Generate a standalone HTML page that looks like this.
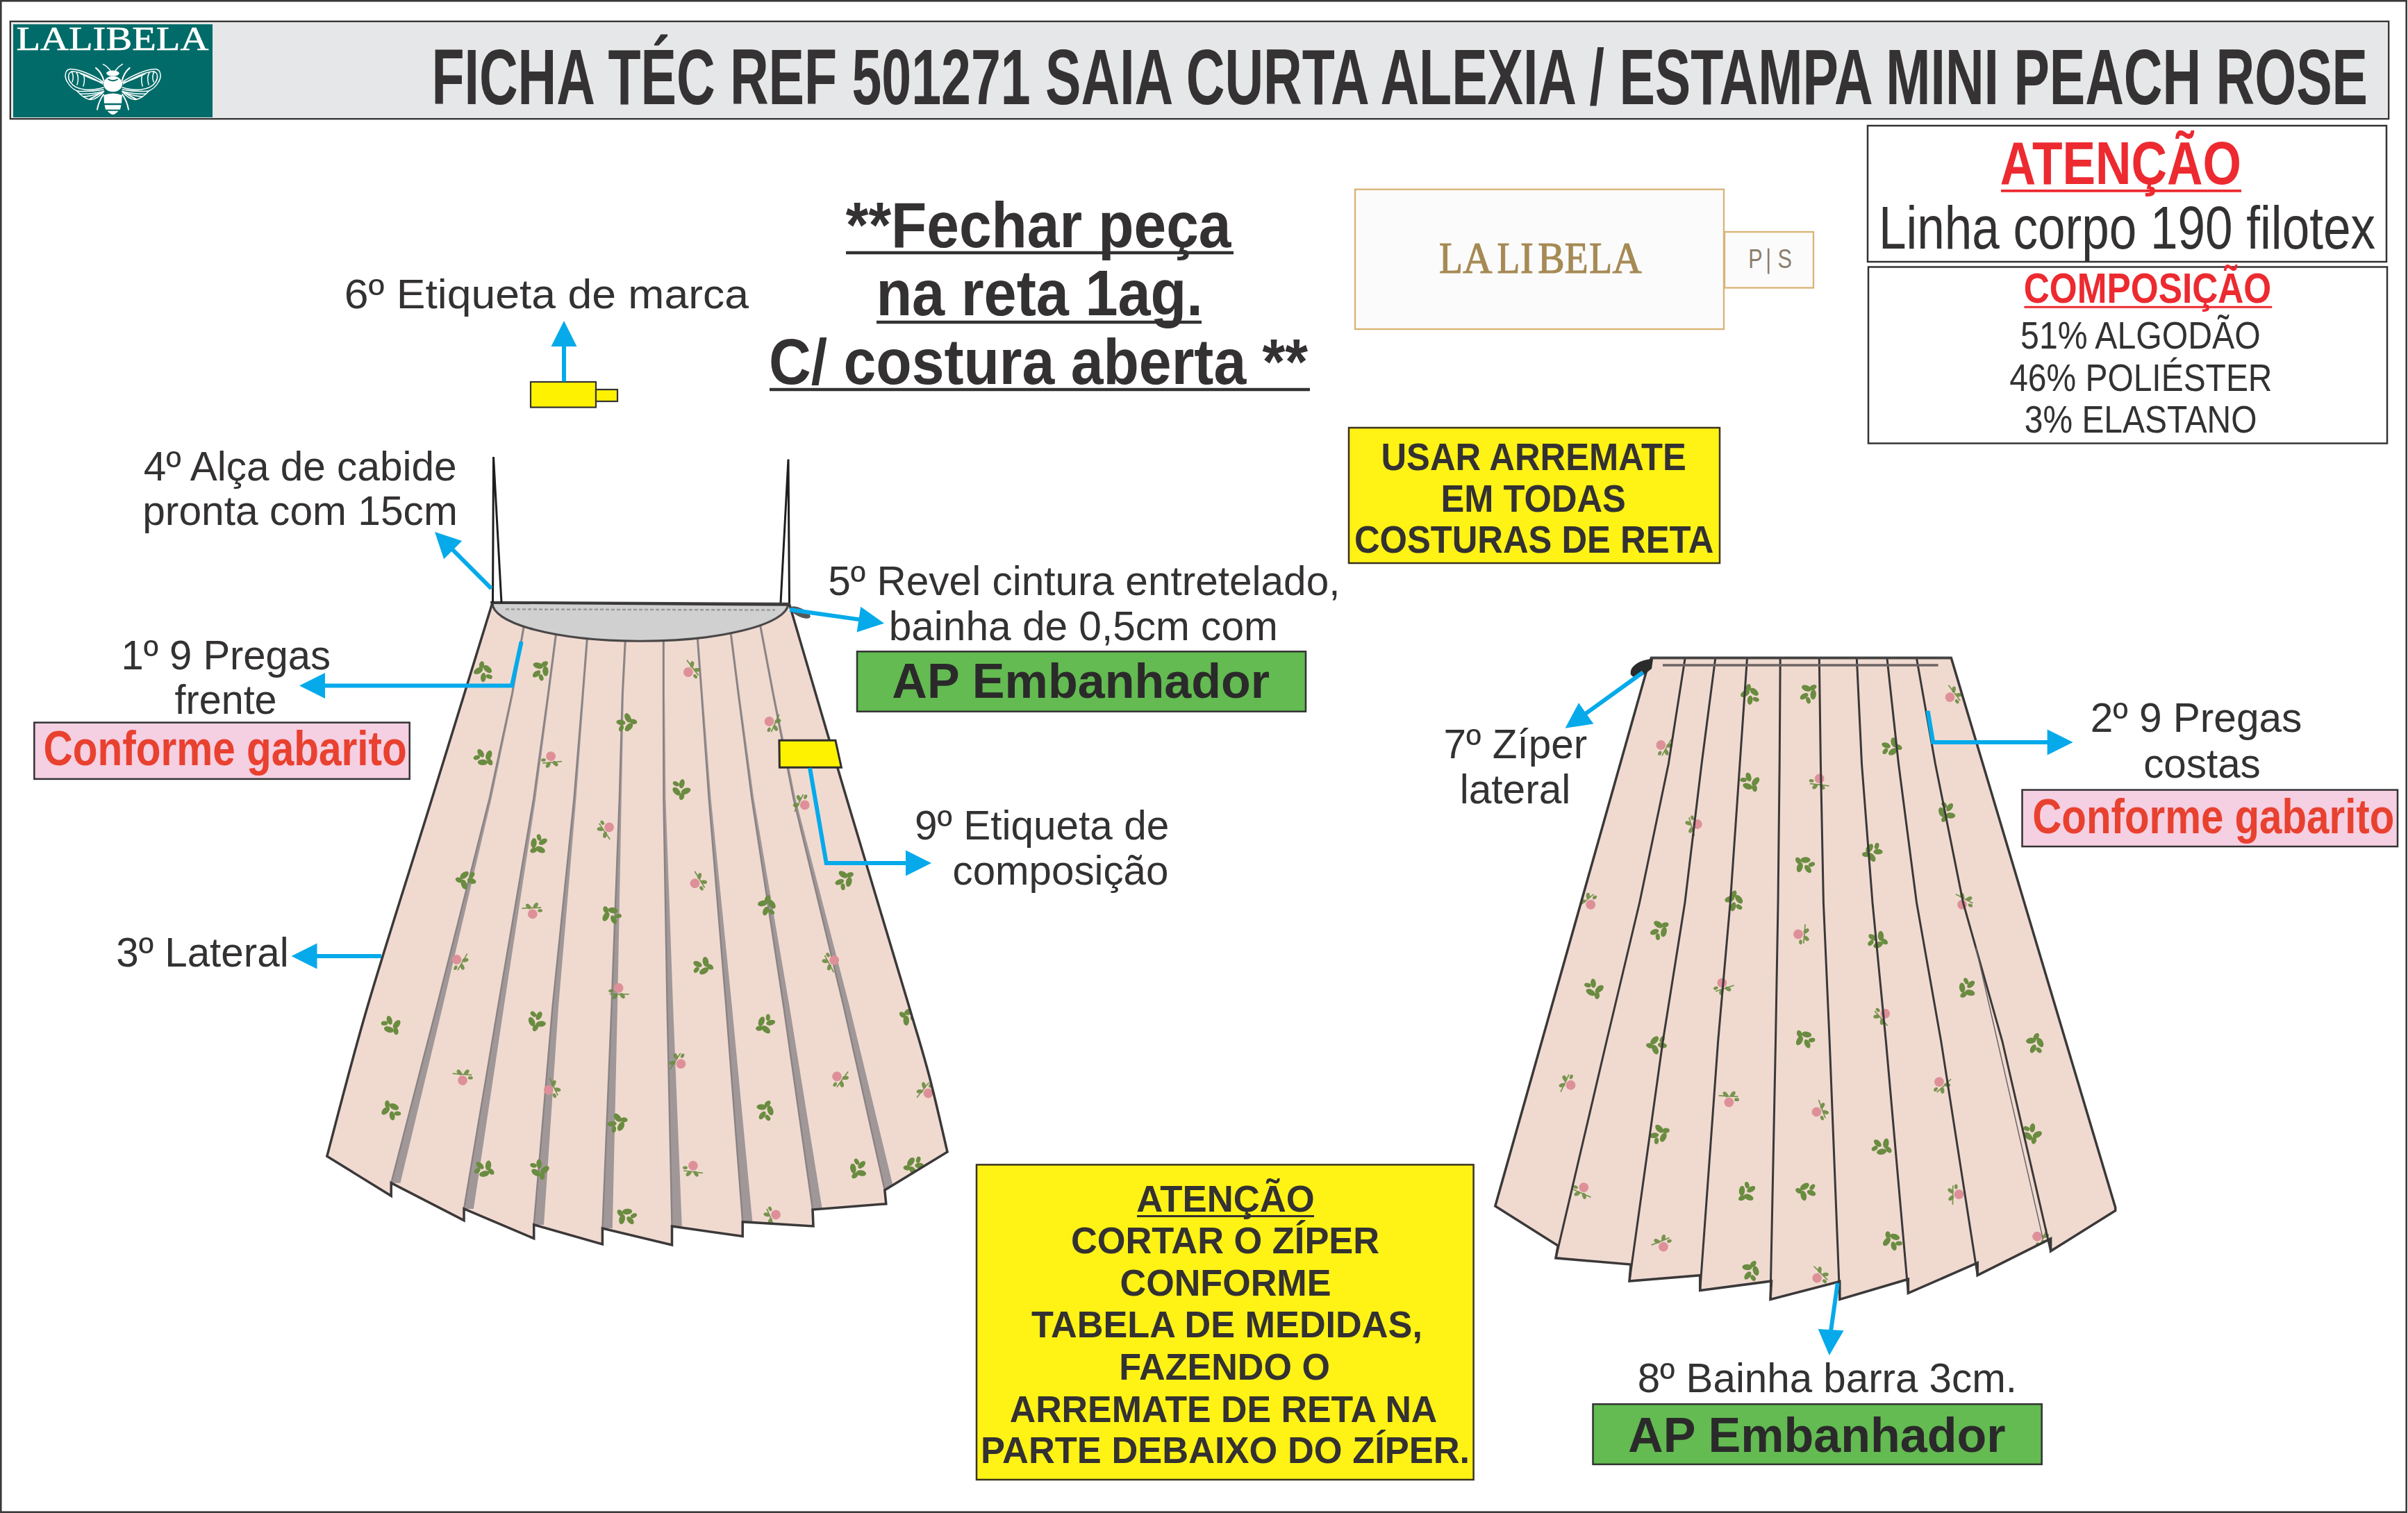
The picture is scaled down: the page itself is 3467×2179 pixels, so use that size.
<!DOCTYPE html>
<html><head><meta charset="utf-8"><title>Ficha Técnica 501271</title>
<style>html,body{margin:0;padding:0;background:#fff;}svg{display:block;}</style></head>
<body><svg width="3467" height="2179" viewBox="0 0 3467 2179">
<rect x="0" y="0" width="3467" height="2179" fill="#ffffff"/>
<rect x="1.3" y="1.3" width="3463.4" height="2176.4" fill="none" stroke="#3a3a3a" stroke-width="2.6"/>
<rect x="14.8" y="30.8" width="3424.4" height="140.4" fill="#e6e7e8" stroke="#333" stroke-width="2.3"/>
<rect x="19" y="35" width="287" height="134" fill="#006b68"/>
<text x="23.4" y="72.0" font-size="48.09" font-weight="normal" font-family='"Liberation Serif", serif' fill="#ffffff" textLength="277.0" lengthAdjust="spacingAndGlyphs" stroke="#ffffff" stroke-width="0.6">LALIBELA</text>
<g fill="none" stroke="#ffffff" stroke-width="1.5" stroke-linecap="round">
<path d="M159,102 Q155,96 148.5,92.7 M166,102 Q170,96 176.4,92.4"/>
<path d="M150,119 C138,110 114,99 101,99.5 C93,100.5 92.5,111 97,118 C101,125 106,129 111,131 C116,137 124,143 131,143.5 C138,143 145,137 150,131"/>
<path d="M148,121 C136,113 116,103 104,103 C98,104 97,112 101,118 C105,124 113,128 122,129 C132,130 142,128 149,126"/>
<path d="M111,131 C122,132 138,131 149,129 M115,135 C126,136 138,134 148,132"/>
<path d="M103,103 C106,108 106,113 104,118 M110,104 C113,109 113,116 111,122 M120,107 C122,111 122,117 120,124"/>
<path d="M148,119 C140,117 128,112 116,106 M120,139 C128,139 139,136 148,133"/>
<g transform="translate(325.2,0) scale(-1,1)"><path d="M150,119 C138,110 114,99 101,99.5 C93,100.5 92.5,111 97,118 C101,125 106,129 111,131 C116,137 124,143 131,143.5 C138,143 145,137 150,131"/>
<path d="M148,121 C136,113 116,103 104,103 C98,104 97,112 101,118 C105,124 113,128 122,129 C132,130 142,128 149,126"/>
<path d="M111,131 C122,132 138,131 149,129 M115,135 C126,136 138,134 148,132"/>
<path d="M103,103 C106,108 106,113 104,118 M110,104 C113,109 113,116 111,122 M120,107 C122,111 122,117 120,124"/>
<path d="M148,119 C140,117 128,112 116,106 M120,139 C128,139 139,136 148,133"/></g>
<path d="M149.5,116 Q146,104 138,97.9 M175.7,116 Q179,104 186.7,97.9" stroke-width="2"/>
<path d="M150,131 Q140,137 129,143 M175.2,131 Q185,137 196,143" stroke-width="2"/>
<path d="M149,136 Q142,146 140,157.7 M176.2,136 Q183,146 185,157.7" stroke-width="2"/>
</g>
<g fill="#ffffff">
<ellipse cx="162.4" cy="105.6" rx="9.3" ry="4"/>
<ellipse cx="162.6" cy="121" rx="13.5" ry="11.3"/>
<path d="M149.4,137 Q162.6,132 175.8,137 L175.1,148.7 L150,148.7 Z"/>
<path d="M150.5,151.3 L174.5,151.3 L173,157.7 L152,157.7 Z"/>
<path d="M154.5,159.7 L170.5,159.7 Q166,164.8 162.6,165 Q159,164.8 154.5,159.7 Z"/>
</g>
<path d="M155.5,114 Q162.6,118.5 169.7,114" fill="none" stroke="#006b68" stroke-width="1.8"/>
<path d="M149.5,130.5 Q162.6,136 175.7,130.5" fill="none" stroke="#006b68" stroke-width="1.5"/>
<text x="621.4" y="149.6" font-size="112.65" font-weight="bold" font-family='"Liberation Sans", sans-serif' fill="#353233" textLength="2787.6" lengthAdjust="spacingAndGlyphs" >FICHA TÉC REF 501271 SAIA CURTA ALEXIA / ESTAMPA MINI PEACH ROSE</text>
<rect x="2689.0" y="181.0" width="747.0" height="196.0" fill="none" stroke="#333" stroke-width="2.5"/>
<text x="2879.8" y="264.5" font-size="87.21" font-weight="bold" font-family='"Liberation Sans", sans-serif' fill="#ec2a30" textLength="347.2" lengthAdjust="spacingAndGlyphs" >ATENÇÃO</text>
<line x1="2881.0" y1="274.8" x2="3227.0" y2="274.8" stroke="#ec2a30" stroke-width="3.8" />
<text x="2704.9" y="357.7" font-size="86.77" font-weight="normal" font-family='"Liberation Sans", sans-serif' fill="#333132" textLength="715.1" lengthAdjust="spacingAndGlyphs" >Linha corpo 190 filotex</text>
<rect x="2690.0" y="384.5" width="747.0" height="254.0" fill="none" stroke="#333" stroke-width="2.5"/>
<text x="2913.7" y="435.5" font-size="61.77" font-weight="bold" font-family='"Liberation Sans", sans-serif' fill="#ec2a30" textLength="356.6" lengthAdjust="spacingAndGlyphs" >COMPOSIÇÃO</text>
<line x1="2914.4" y1="442.3" x2="3271.2" y2="442.3" stroke="#ec2a30" stroke-width="3" />
<text x="2909.1" y="502.1" font-size="55.81" font-weight="normal" font-family='"Liberation Sans", sans-serif' fill="#333132" textLength="345.6" lengthAdjust="spacingAndGlyphs" >51% ALGODÃO</text>
<text x="2893.2" y="563.2" font-size="55.81" font-weight="normal" font-family='"Liberation Sans", sans-serif' fill="#333132" textLength="378.3" lengthAdjust="spacingAndGlyphs" >46% POLIÉSTER</text>
<text x="2914.8" y="623.3" font-size="55.81" font-weight="normal" font-family='"Liberation Sans", sans-serif' fill="#333132" textLength="334.7" lengthAdjust="spacingAndGlyphs" >3% ELASTANO</text>
<text x="1217.8" y="356.0" font-size="93.02" font-weight="bold" font-family='"Liberation Sans", sans-serif' fill="#333132" textLength="554.7" lengthAdjust="spacingAndGlyphs" >**Fechar peça</text>
<line x1="1218.0" y1="364.0" x2="1776.0" y2="364.0" stroke="#333132" stroke-width="4.5" />
<text x="1261.4" y="453.7" font-size="93.02" font-weight="bold" font-family='"Liberation Sans", sans-serif' fill="#333132" textLength="470.4" lengthAdjust="spacingAndGlyphs" >na reta 1ag.</text>
<line x1="1262.0" y1="464.0" x2="1730.0" y2="464.0" stroke="#333132" stroke-width="4.5" />
<text x="1107.0" y="552.7" font-size="93.02" font-weight="bold" font-family='"Liberation Sans", sans-serif' fill="#333132" textLength="776.0" lengthAdjust="spacingAndGlyphs" >C/ costura aberta **</text>
<line x1="1108.0" y1="561.0" x2="1886.0" y2="561.0" stroke="#333132" stroke-width="4.5" />
<rect x="1951" y="272.7" width="531" height="201.3" fill="#fbfbfb" stroke="#d9b272" stroke-width="2.3"/>
<rect x="2483" y="334" width="128" height="80.5" fill="#fbfbfb" stroke="#d9b272" stroke-width="2.3"/>
<text x="2072.0" y="393.0" font-size="63.05" font-weight="normal" font-family='"Liberation Serif", serif' fill="#a68a55" textLength="33.8" lengthAdjust="spacingAndGlyphs" stroke="#a68a55" stroke-width="1.2">L</text>
<text x="2106.3" y="393.0" font-size="63.05" font-weight="normal" font-family='"Liberation Serif", serif' fill="#a68a55" textLength="42.3" lengthAdjust="spacingAndGlyphs" stroke="#a68a55" stroke-width="1.2">A</text>
<text x="2155.5" y="393.0" font-size="63.05" font-weight="normal" font-family='"Liberation Serif", serif' fill="#a68a55" textLength="32.8" lengthAdjust="spacingAndGlyphs" stroke="#a68a55" stroke-width="1.2">L</text>
<text x="2189.0" y="393.0" font-size="63.05" font-weight="normal" font-family='"Liberation Serif", serif' fill="#a68a55" textLength="18.7" lengthAdjust="spacingAndGlyphs" stroke="#a68a55" stroke-width="1.2">I</text>
<text x="2214.3" y="393.0" font-size="63.05" font-weight="normal" font-family='"Liberation Serif", serif' fill="#a68a55" textLength="38.4" lengthAdjust="spacingAndGlyphs" stroke="#a68a55" stroke-width="1.2">B</text>
<text x="2252.7" y="393.0" font-size="63.05" font-weight="normal" font-family='"Liberation Serif", serif' fill="#a68a55" textLength="33.9" lengthAdjust="spacingAndGlyphs" stroke="#a68a55" stroke-width="1.2">E</text>
<text x="2288.2" y="393.0" font-size="63.05" font-weight="normal" font-family='"Liberation Serif", serif' fill="#a68a55" textLength="32.8" lengthAdjust="spacingAndGlyphs" stroke="#a68a55" stroke-width="1.2">L</text>
<text x="2321.6" y="393.0" font-size="63.05" font-weight="normal" font-family='"Liberation Serif", serif' fill="#a68a55" textLength="42.2" lengthAdjust="spacingAndGlyphs" stroke="#a68a55" stroke-width="1.2">A</text>
<text x="2517.2" y="386.0" font-size="39.24" font-weight="normal" font-family='"Liberation Sans", sans-serif' fill="#8b7e6c" textLength="20.4" lengthAdjust="spacingAndGlyphs" >P</text>
<text x="2559.6" y="386.0" font-size="39.24" font-weight="normal" font-family='"Liberation Sans", sans-serif' fill="#8b7e6c" textLength="20.5" lengthAdjust="spacingAndGlyphs" >S</text>
<line x1="2546.2" y1="357.6" x2="2546.2" y2="394.5" stroke="#8b7e6c" stroke-width="2.6" />
<rect x="1942.0" y="616.0" width="534.0" height="195.0" fill="#fff215" stroke="#3a3320" stroke-width="2.5"/>
<text x="1988.5" y="677.2" font-size="56.10" font-weight="bold" font-family='"Liberation Sans", sans-serif' fill="#333132" textLength="439.3" lengthAdjust="spacingAndGlyphs" >USAR ARREMATE</text>
<text x="2074.6" y="736.5" font-size="56.10" font-weight="bold" font-family='"Liberation Sans", sans-serif' fill="#333132" textLength="266.3" lengthAdjust="spacingAndGlyphs" >EM TODAS</text>
<text x="1949.9" y="795.6" font-size="56.10" font-weight="bold" font-family='"Liberation Sans", sans-serif' fill="#333132" textLength="517.4" lengthAdjust="spacingAndGlyphs" >COSTURAS DE RETA</text>
<rect x="1406.0" y="1677.4" width="715.6" height="453.6" fill="#fff215" stroke="#3a3320" stroke-width="2.5"/>
<text x="1636.2" y="1745.0" font-size="54.51" font-weight="bold" font-family='"Liberation Sans", sans-serif' fill="#333132" textLength="256.6" lengthAdjust="spacingAndGlyphs" >ATENÇÃO</text>
<line x1="1637.0" y1="1751.5" x2="1892.0" y2="1751.5" stroke="#333132" stroke-width="3" />
<text x="1541.9" y="1805.0" font-size="54.51" font-weight="bold" font-family='"Liberation Sans", sans-serif' fill="#333132" textLength="444.2" lengthAdjust="spacingAndGlyphs" >CORTAR O ZÍPER</text>
<text x="1612.6" y="1865.5" font-size="54.51" font-weight="bold" font-family='"Liberation Sans", sans-serif' fill="#333132" textLength="303.9" lengthAdjust="spacingAndGlyphs" >CONFORME</text>
<text x="1485.0" y="1926.4" font-size="54.51" font-weight="bold" font-family='"Liberation Sans", sans-serif' fill="#333132" textLength="562.9" lengthAdjust="spacingAndGlyphs" >TABELA DE MEDIDAS,</text>
<text x="1611.2" y="1986.7" font-size="54.51" font-weight="bold" font-family='"Liberation Sans", sans-serif' fill="#333132" textLength="303.7" lengthAdjust="spacingAndGlyphs" >FAZENDO O</text>
<text x="1453.7" y="2047.6" font-size="54.51" font-weight="bold" font-family='"Liberation Sans", sans-serif' fill="#333132" textLength="615.6" lengthAdjust="spacingAndGlyphs" >ARREMATE DE RETA NA</text>
<text x="1412.0" y="2107.0" font-size="54.51" font-weight="bold" font-family='"Liberation Sans", sans-serif' fill="#333132" textLength="704.2" lengthAdjust="spacingAndGlyphs" >PARTE DEBAIXO DO ZÍPER.</text>
<text x="495.8" y="444.0" font-size="59.59" font-weight="normal" font-family='"Liberation Sans", sans-serif' fill="#333132" textLength="582.2" lengthAdjust="spacingAndGlyphs" >6º Etiqueta de marca</text>
<text x="206.7" y="691.5" font-size="59.59" font-weight="normal" font-family='"Liberation Sans", sans-serif' fill="#333132" textLength="450.9" lengthAdjust="spacingAndGlyphs" >4º Alça de cabide</text>
<text x="205.2" y="755.8" font-size="59.59" font-weight="normal" font-family='"Liberation Sans", sans-serif' fill="#333132" textLength="453.7" lengthAdjust="spacingAndGlyphs" >pronta com 15cm</text>
<text x="174.5" y="963.5" font-size="59.59" font-weight="normal" font-family='"Liberation Sans", sans-serif' fill="#333132" textLength="301.6" lengthAdjust="spacingAndGlyphs" >1º 9 Pregas</text>
<text x="251.6" y="1028.4" font-size="59.59" font-weight="normal" font-family='"Liberation Sans", sans-serif' fill="#333132" textLength="147.0" lengthAdjust="spacingAndGlyphs" >frente</text>
<text x="167.2" y="1391.6" font-size="59.59" font-weight="normal" font-family='"Liberation Sans", sans-serif' fill="#333132" textLength="248.5" lengthAdjust="spacingAndGlyphs" >3º Lateral</text>
<text x="1192.3" y="857.0" font-size="59.59" font-weight="normal" font-family='"Liberation Sans", sans-serif' fill="#333132" textLength="737.2" lengthAdjust="spacingAndGlyphs" >5º Revel cintura entretelado,</text>
<text x="1279.7" y="922.4" font-size="59.59" font-weight="normal" font-family='"Liberation Sans", sans-serif' fill="#333132" textLength="560.1" lengthAdjust="spacingAndGlyphs" >bainha de 0,5cm com</text>
<text x="1317.1" y="1209.4" font-size="59.59" font-weight="normal" font-family='"Liberation Sans", sans-serif' fill="#333132" textLength="366.1" lengthAdjust="spacingAndGlyphs" >9º Etiqueta de</text>
<text x="1371.5" y="1274.2" font-size="59.59" font-weight="normal" font-family='"Liberation Sans", sans-serif' fill="#333132" textLength="310.9" lengthAdjust="spacingAndGlyphs" >composição</text>
<text x="2078.6" y="1092.0" font-size="59.59" font-weight="normal" font-family='"Liberation Sans", sans-serif' fill="#333132" textLength="206.6" lengthAdjust="spacingAndGlyphs" >7º Zíper</text>
<text x="2101.7" y="1156.7" font-size="59.59" font-weight="normal" font-family='"Liberation Sans", sans-serif' fill="#333132" textLength="159.6" lengthAdjust="spacingAndGlyphs" >lateral</text>
<text x="3009.7" y="1054.0" font-size="59.59" font-weight="normal" font-family='"Liberation Sans", sans-serif' fill="#333132" textLength="304.7" lengthAdjust="spacingAndGlyphs" >2º 9 Pregas</text>
<text x="3086.2" y="1119.5" font-size="59.59" font-weight="normal" font-family='"Liberation Sans", sans-serif' fill="#333132" textLength="168.6" lengthAdjust="spacingAndGlyphs" >costas</text>
<text x="2357.7" y="2004.8" font-size="59.59" font-weight="normal" font-family='"Liberation Sans", sans-serif' fill="#333132" textLength="546.2" lengthAdjust="spacingAndGlyphs" >8º Bainha barra 3cm.</text>
<rect x="49.3" y="1040.6" width="540.4" height="81.3" fill="#f5cfe2" stroke="#333" stroke-width="2.5"/>
<text x="62.6" y="1102.0" font-size="70.49" font-weight="bold" font-family='"Liberation Sans", sans-serif' fill="#e8412f" textLength="523.1" lengthAdjust="spacingAndGlyphs" >Conforme gabarito</text>
<rect x="2911.5" y="1137.6" width="540.5" height="81.5" fill="#f5cfe2" stroke="#333" stroke-width="2.5"/>
<text x="2926.3" y="1200.4" font-size="70.49" font-weight="bold" font-family='"Liberation Sans", sans-serif' fill="#e8412f" textLength="521.0" lengthAdjust="spacingAndGlyphs" >Conforme gabarito</text>
<rect x="1234.0" y="938.3" width="646.0" height="86.4" fill="#63bb52" stroke="#333" stroke-width="2.5"/>
<text x="1284.3" y="1005.3" font-size="71.22" font-weight="bold" font-family='"Liberation Sans", sans-serif' fill="#2b2a2a" textLength="543.8" lengthAdjust="spacingAndGlyphs" >AP Embanhador</text>
<rect x="2293.5" y="2022.2" width="646.2" height="86.7" fill="#63bb52" stroke="#333" stroke-width="2.5"/>
<text x="2344.1" y="2090.7" font-size="71.22" font-weight="bold" font-family='"Liberation Sans", sans-serif' fill="#2b2a2a" textLength="543.5" lengthAdjust="spacingAndGlyphs" >AP Embanhador</text>
<path d="M709.0,868.0 C694.5,915.0 652.0,1053.0 622.0,1150.0 C592.0,1247.0 554.2,1364.1 529.0,1450.0 C503.8,1535.9 480.5,1629.3 470.8,1665.2 L563.2,1722.3 L563.2,1703.7 L668,1757.6 L668,1741 L768.7,1783.6 L768.7,1763.9 L867.4,1791.9 L867.4,1769 L967.5,1793 L967.5,1766 L1069.2,1780.5 L1069.2,1759.7 L1171,1766 L1170,1742 L1275.8,1733.8 L1273.8,1714 L1364,1659 L1364.0,1659.0 C1359.7,1640.8 1347.2,1584.8 1338.0,1550.0 C1328.8,1515.2 1328.8,1516.7 1309.0,1450.0 C1289.2,1383.3 1247.7,1246.5 1219.0,1150.0 C1190.3,1053.5 1150.5,917.5 1136.8,871.0 Z" fill="#f0dad0"/>
<clipPath id="clipL"><path d="M709.0,868.0 C694.5,915.0 652.0,1053.0 622.0,1150.0 C592.0,1247.0 554.2,1364.1 529.0,1450.0 C503.8,1535.9 480.5,1629.3 470.8,1665.2 L563.2,1722.3 L563.2,1703.7 L668,1757.6 L668,1741 L768.7,1783.6 L768.7,1763.9 L867.4,1791.9 L867.4,1769 L967.5,1793 L967.5,1766 L1069.2,1780.5 L1069.2,1759.7 L1171,1766 L1170,1742 L1275.8,1733.8 L1273.8,1714 L1364,1659 L1364.0,1659.0 C1359.7,1640.8 1347.2,1584.8 1338.0,1550.0 C1328.8,1515.2 1328.8,1516.7 1309.0,1450.0 C1289.2,1383.3 1247.7,1246.5 1219.0,1150.0 C1190.3,1053.5 1150.5,917.5 1136.8,871.0 Z"/></clipPath><g clip-path="url(#clipL)">
<polygon points="754.8,897.0 737.0,1000.0 704.7,1150.0 628.8,1450.0 563.2,1703.7 576.4,1703.7 637.3,1450.0 707.7,1150.0 739.0,1000.0 756.8,897.0" fill="#a09798" stroke="none" stroke-width="0" stroke-linejoin="miter" />
<polyline points="754.8,897.0 737.0,1000.0 704.7,1150.0 628.8,1450.0 563.2,1703.7" fill="none" stroke="#8a8283" stroke-width="2.4" stroke-linejoin="miter" />
<polygon points="800.4,911.6 789.0,1000.0 768.3,1150.0 717.0,1450.0 668.0,1741.0 681.9,1741.0 725.5,1450.0 771.3,1150.0 791.0,1000.0 802.4,911.6" fill="#a09798" stroke="none" stroke-width="0" stroke-linejoin="miter" />
<polyline points="800.4,911.6 789.0,1000.0 768.3,1150.0 717.0,1450.0 668.0,1741.0" fill="none" stroke="#8a8283" stroke-width="2.4" stroke-linejoin="miter" />
<polygon points="845.0,920.0 838.8,1000.0 826.5,1150.0 795.5,1450.0 768.7,1763.9 783.0,1763.9 804.0,1450.0 829.5,1150.0 840.8,1000.0 847.0,920.0" fill="#a09798" stroke="none" stroke-width="0" stroke-linejoin="miter" />
<polyline points="845.0,920.0 838.8,1000.0 826.5,1150.0 795.5,1450.0 768.7,1763.9" fill="none" stroke="#8a8283" stroke-width="2.4" stroke-linejoin="miter" />
<polygon points="900.0,922.0 896.0,1000.0 891.8,1150.0 880.5,1450.0 867.4,1769.0 881.8,1769.0 889.0,1450.0 894.8,1150.0 898.0,1000.0 902.0,922.0" fill="#a09798" stroke="none" stroke-width="0" stroke-linejoin="miter" />
<polyline points="900.0,922.0 896.0,1000.0 891.8,1150.0 880.5,1450.0 867.4,1769.0" fill="none" stroke="#8a8283" stroke-width="2.4" stroke-linejoin="miter" />
<polygon points="955.0,922.0 955.0,1000.0 955.4,1150.0 960.6,1450.0 967.5,1766.0 981.8,1766.0 969.1,1450.0 958.4,1150.0 957.0,1000.0 957.0,922.0" fill="#a09798" stroke="none" stroke-width="0" stroke-linejoin="miter" />
<polyline points="955.0,922.0 955.0,1000.0 955.4,1150.0 960.6,1450.0 967.5,1766.0" fill="none" stroke="#8a8283" stroke-width="2.4" stroke-linejoin="miter" />
<polygon points="1004.0,919.0 1010.0,1000.0 1020.6,1150.0 1045.4,1450.0 1069.2,1759.7 1083.4,1759.7 1053.9,1450.0 1023.6,1150.0 1012.0,1000.0 1006.0,919.0" fill="#a09798" stroke="none" stroke-width="0" stroke-linejoin="miter" />
<polyline points="1004.0,919.0 1010.0,1000.0 1020.6,1150.0 1045.4,1450.0 1069.2,1759.7" fill="none" stroke="#8a8283" stroke-width="2.4" stroke-linejoin="miter" />
<polygon points="1051.7,910.6 1063.0,1000.0 1082.4,1150.0 1128.3,1450.0 1170.0,1742.0 1183.9,1742.0 1136.8,1450.0 1085.4,1150.0 1065.0,1000.0 1053.7,910.6" fill="#a09798" stroke="none" stroke-width="0" stroke-linejoin="miter" />
<polyline points="1051.7,910.6 1063.0,1000.0 1082.4,1150.0 1128.3,1450.0 1170.0,1742.0" fill="none" stroke="#8a8283" stroke-width="2.4" stroke-linejoin="miter" />
<polygon points="1094.0,899.0 1113.0,1000.0 1142.4,1150.0 1214.8,1450.0 1273.8,1714.0 1287.2,1714.0 1223.3,1450.0 1145.4,1150.0 1115.0,1000.0 1096.0,899.0" fill="#a09798" stroke="none" stroke-width="0" stroke-linejoin="miter" />
<polyline points="1094.0,899.0 1113.0,1000.0 1142.4,1150.0 1214.8,1450.0 1273.8,1714.0" fill="none" stroke="#8a8283" stroke-width="2.4" stroke-linejoin="miter" />
<g fill="#6a8c40" transform="translate(695.9,969.6) rotate(0) scale(1.2)"><ellipse cx="-6" cy="-3" rx="6" ry="3.5" transform="rotate(-30 -6 -3)"/><ellipse cx="5" cy="-5" rx="6" ry="3.5" transform="rotate(40 5 -5)"/><ellipse cx="0" cy="5" rx="5.5" ry="3.2" transform="rotate(95 0 5)"/><ellipse cx="-2" cy="-10" rx="4.5" ry="3" transform="rotate(-80 -2 -10)"/><ellipse cx="7" cy="4" rx="4" ry="2.6" transform="rotate(20 7 4)"/></g>
<g fill="#6a8c40" transform="translate(776.9,966.3) rotate(47) scale(1.2)"><ellipse cx="-6" cy="-3" rx="6" ry="3.5" transform="rotate(-30 -6 -3)"/><ellipse cx="5" cy="-5" rx="6" ry="3.5" transform="rotate(40 5 -5)"/><ellipse cx="0" cy="5" rx="5.5" ry="3.2" transform="rotate(95 0 5)"/><ellipse cx="-2" cy="-10" rx="4.5" ry="3" transform="rotate(-80 -2 -10)"/><ellipse cx="7" cy="4" rx="4" ry="2.6" transform="rotate(20 7 4)"/></g>
<g fill="#6a8c40" transform="translate(899.9,1040.8) rotate(94) scale(1.2)"><ellipse cx="-6" cy="-3" rx="6" ry="3.5" transform="rotate(-30 -6 -3)"/><ellipse cx="5" cy="-5" rx="6" ry="3.5" transform="rotate(40 5 -5)"/><ellipse cx="0" cy="5" rx="5.5" ry="3.2" transform="rotate(95 0 5)"/><ellipse cx="-2" cy="-10" rx="4.5" ry="3" transform="rotate(-80 -2 -10)"/><ellipse cx="7" cy="4" rx="4" ry="2.6" transform="rotate(20 7 4)"/></g>
<g fill="#6a8c40" transform="translate(695.9,1089.4) rotate(141) scale(1.2)"><ellipse cx="-6" cy="-3" rx="6" ry="3.5" transform="rotate(-30 -6 -3)"/><ellipse cx="5" cy="-5" rx="6" ry="3.5" transform="rotate(40 5 -5)"/><ellipse cx="0" cy="5" rx="5.5" ry="3.2" transform="rotate(95 0 5)"/><ellipse cx="-2" cy="-10" rx="4.5" ry="3" transform="rotate(-80 -2 -10)"/><ellipse cx="7" cy="4" rx="4" ry="2.6" transform="rotate(20 7 4)"/></g>
<g fill="#6a8c40" transform="translate(980.9,1134.7) rotate(188) scale(1.2)"><ellipse cx="-6" cy="-3" rx="6" ry="3.5" transform="rotate(-30 -6 -3)"/><ellipse cx="5" cy="-5" rx="6" ry="3.5" transform="rotate(40 5 -5)"/><ellipse cx="0" cy="5" rx="5.5" ry="3.2" transform="rotate(95 0 5)"/><ellipse cx="-2" cy="-10" rx="4.5" ry="3" transform="rotate(-80 -2 -10)"/><ellipse cx="7" cy="4" rx="4" ry="2.6" transform="rotate(20 7 4)"/></g>
<g fill="#6a8c40" transform="translate(776.9,1215.7) rotate(235) scale(1.2)"><ellipse cx="-6" cy="-3" rx="6" ry="3.5" transform="rotate(-30 -6 -3)"/><ellipse cx="5" cy="-5" rx="6" ry="3.5" transform="rotate(40 5 -5)"/><ellipse cx="0" cy="5" rx="5.5" ry="3.2" transform="rotate(95 0 5)"/><ellipse cx="-2" cy="-10" rx="4.5" ry="3" transform="rotate(-80 -2 -10)"/><ellipse cx="7" cy="4" rx="4" ry="2.6" transform="rotate(20 7 4)"/></g>
<g fill="#6a8c40" transform="translate(673.2,1267.5) rotate(282) scale(1.2)"><ellipse cx="-6" cy="-3" rx="6" ry="3.5" transform="rotate(-30 -6 -3)"/><ellipse cx="5" cy="-5" rx="6" ry="3.5" transform="rotate(40 5 -5)"/><ellipse cx="0" cy="5" rx="5.5" ry="3.2" transform="rotate(95 0 5)"/><ellipse cx="-2" cy="-10" rx="4.5" ry="3" transform="rotate(-80 -2 -10)"/><ellipse cx="7" cy="4" rx="4" ry="2.6" transform="rotate(20 7 4)"/></g>
<g fill="#6a8c40" transform="translate(880.5,1319.4) rotate(329) scale(1.2)"><ellipse cx="-6" cy="-3" rx="6" ry="3.5" transform="rotate(-30 -6 -3)"/><ellipse cx="5" cy="-5" rx="6" ry="3.5" transform="rotate(40 5 -5)"/><ellipse cx="0" cy="5" rx="5.5" ry="3.2" transform="rotate(95 0 5)"/><ellipse cx="-2" cy="-10" rx="4.5" ry="3" transform="rotate(-80 -2 -10)"/><ellipse cx="7" cy="4" rx="4" ry="2.6" transform="rotate(20 7 4)"/></g>
<g fill="#6a8c40" transform="translate(1104.0,1306.4) rotate(16) scale(1.2)"><ellipse cx="-6" cy="-3" rx="6" ry="3.5" transform="rotate(-30 -6 -3)"/><ellipse cx="5" cy="-5" rx="6" ry="3.5" transform="rotate(40 5 -5)"/><ellipse cx="0" cy="5" rx="5.5" ry="3.2" transform="rotate(95 0 5)"/><ellipse cx="-2" cy="-10" rx="4.5" ry="3" transform="rotate(-80 -2 -10)"/><ellipse cx="7" cy="4" rx="4" ry="2.6" transform="rotate(20 7 4)"/></g>
<g fill="#6a8c40" transform="translate(1214.1,1267.5) rotate(63) scale(1.2)"><ellipse cx="-6" cy="-3" rx="6" ry="3.5" transform="rotate(-30 -6 -3)"/><ellipse cx="5" cy="-5" rx="6" ry="3.5" transform="rotate(40 5 -5)"/><ellipse cx="0" cy="5" rx="5.5" ry="3.2" transform="rotate(95 0 5)"/><ellipse cx="-2" cy="-10" rx="4.5" ry="3" transform="rotate(-80 -2 -10)"/><ellipse cx="7" cy="4" rx="4" ry="2.6" transform="rotate(20 7 4)"/></g>
<g fill="#6a8c40" transform="translate(1010.1,1390.6) rotate(110) scale(1.2)"><ellipse cx="-6" cy="-3" rx="6" ry="3.5" transform="rotate(-30 -6 -3)"/><ellipse cx="5" cy="-5" rx="6" ry="3.5" transform="rotate(40 5 -5)"/><ellipse cx="0" cy="5" rx="5.5" ry="3.2" transform="rotate(95 0 5)"/><ellipse cx="-2" cy="-10" rx="4.5" ry="3" transform="rotate(-80 -2 -10)"/><ellipse cx="7" cy="4" rx="4" ry="2.6" transform="rotate(20 7 4)"/></g>
<g fill="#6a8c40" transform="translate(563.1,1474.8) rotate(157) scale(1.2)"><ellipse cx="-6" cy="-3" rx="6" ry="3.5" transform="rotate(-30 -6 -3)"/><ellipse cx="5" cy="-5" rx="6" ry="3.5" transform="rotate(40 5 -5)"/><ellipse cx="0" cy="5" rx="5.5" ry="3.2" transform="rotate(95 0 5)"/><ellipse cx="-2" cy="-10" rx="4.5" ry="3" transform="rotate(-80 -2 -10)"/><ellipse cx="7" cy="4" rx="4" ry="2.6" transform="rotate(20 7 4)"/></g>
<g fill="#6a8c40" transform="translate(773.6,1468.4) rotate(204) scale(1.2)"><ellipse cx="-6" cy="-3" rx="6" ry="3.5" transform="rotate(-30 -6 -3)"/><ellipse cx="5" cy="-5" rx="6" ry="3.5" transform="rotate(40 5 -5)"/><ellipse cx="0" cy="5" rx="5.5" ry="3.2" transform="rotate(95 0 5)"/><ellipse cx="-2" cy="-10" rx="4.5" ry="3" transform="rotate(-80 -2 -10)"/><ellipse cx="7" cy="4" rx="4" ry="2.6" transform="rotate(20 7 4)"/></g>
<g fill="#6a8c40" transform="translate(1104.0,1474.8) rotate(251) scale(1.2)"><ellipse cx="-6" cy="-3" rx="6" ry="3.5" transform="rotate(-30 -6 -3)"/><ellipse cx="5" cy="-5" rx="6" ry="3.5" transform="rotate(40 5 -5)"/><ellipse cx="0" cy="5" rx="5.5" ry="3.2" transform="rotate(95 0 5)"/><ellipse cx="-2" cy="-10" rx="4.5" ry="3" transform="rotate(-80 -2 -10)"/><ellipse cx="7" cy="4" rx="4" ry="2.6" transform="rotate(20 7 4)"/></g>
<g fill="#6a8c40" transform="translate(1311.3,1465.1) rotate(298) scale(1.2)"><ellipse cx="-6" cy="-3" rx="6" ry="3.5" transform="rotate(-30 -6 -3)"/><ellipse cx="5" cy="-5" rx="6" ry="3.5" transform="rotate(40 5 -5)"/><ellipse cx="0" cy="5" rx="5.5" ry="3.2" transform="rotate(95 0 5)"/><ellipse cx="-2" cy="-10" rx="4.5" ry="3" transform="rotate(-80 -2 -10)"/><ellipse cx="7" cy="4" rx="4" ry="2.6" transform="rotate(20 7 4)"/></g>
<g fill="#6a8c40" transform="translate(563.1,1601.2) rotate(345) scale(1.2)"><ellipse cx="-6" cy="-3" rx="6" ry="3.5" transform="rotate(-30 -6 -3)"/><ellipse cx="5" cy="-5" rx="6" ry="3.5" transform="rotate(40 5 -5)"/><ellipse cx="0" cy="5" rx="5.5" ry="3.2" transform="rotate(95 0 5)"/><ellipse cx="-2" cy="-10" rx="4.5" ry="3" transform="rotate(-80 -2 -10)"/><ellipse cx="7" cy="4" rx="4" ry="2.6" transform="rotate(20 7 4)"/></g>
<g fill="#6a8c40" transform="translate(1100.8,1601.2) rotate(32) scale(1.2)"><ellipse cx="-6" cy="-3" rx="6" ry="3.5" transform="rotate(-30 -6 -3)"/><ellipse cx="5" cy="-5" rx="6" ry="3.5" transform="rotate(40 5 -5)"/><ellipse cx="0" cy="5" rx="5.5" ry="3.2" transform="rotate(95 0 5)"/><ellipse cx="-2" cy="-10" rx="4.5" ry="3" transform="rotate(-80 -2 -10)"/><ellipse cx="7" cy="4" rx="4" ry="2.6" transform="rotate(20 7 4)"/></g>
<g fill="#6a8c40" transform="translate(887.0,1617.4) rotate(79) scale(1.2)"><ellipse cx="-6" cy="-3" rx="6" ry="3.5" transform="rotate(-30 -6 -3)"/><ellipse cx="5" cy="-5" rx="6" ry="3.5" transform="rotate(40 5 -5)"/><ellipse cx="0" cy="5" rx="5.5" ry="3.2" transform="rotate(95 0 5)"/><ellipse cx="-2" cy="-10" rx="4.5" ry="3" transform="rotate(-80 -2 -10)"/><ellipse cx="7" cy="4" rx="4" ry="2.6" transform="rotate(20 7 4)"/></g>
<g fill="#6a8c40" transform="translate(695.9,1682.1) rotate(126) scale(1.2)"><ellipse cx="-6" cy="-3" rx="6" ry="3.5" transform="rotate(-30 -6 -3)"/><ellipse cx="5" cy="-5" rx="6" ry="3.5" transform="rotate(40 5 -5)"/><ellipse cx="0" cy="5" rx="5.5" ry="3.2" transform="rotate(95 0 5)"/><ellipse cx="-2" cy="-10" rx="4.5" ry="3" transform="rotate(-80 -2 -10)"/><ellipse cx="7" cy="4" rx="4" ry="2.6" transform="rotate(20 7 4)"/></g>
<g fill="#6a8c40" transform="translate(776.9,1682.1) rotate(173) scale(1.2)"><ellipse cx="-6" cy="-3" rx="6" ry="3.5" transform="rotate(-30 -6 -3)"/><ellipse cx="5" cy="-5" rx="6" ry="3.5" transform="rotate(40 5 -5)"/><ellipse cx="0" cy="5" rx="5.5" ry="3.2" transform="rotate(95 0 5)"/><ellipse cx="-2" cy="-10" rx="4.5" ry="3" transform="rotate(-80 -2 -10)"/><ellipse cx="7" cy="4" rx="4" ry="2.6" transform="rotate(20 7 4)"/></g>
<g fill="#6a8c40" transform="translate(1236.8,1682.1) rotate(220) scale(1.2)"><ellipse cx="-6" cy="-3" rx="6" ry="3.5" transform="rotate(-30 -6 -3)"/><ellipse cx="5" cy="-5" rx="6" ry="3.5" transform="rotate(40 5 -5)"/><ellipse cx="0" cy="5" rx="5.5" ry="3.2" transform="rotate(95 0 5)"/><ellipse cx="-2" cy="-10" rx="4.5" ry="3" transform="rotate(-80 -2 -10)"/><ellipse cx="7" cy="4" rx="4" ry="2.6" transform="rotate(20 7 4)"/></g>
<g fill="#6a8c40" transform="translate(1317.8,1678.9) rotate(267) scale(1.2)"><ellipse cx="-6" cy="-3" rx="6" ry="3.5" transform="rotate(-30 -6 -3)"/><ellipse cx="5" cy="-5" rx="6" ry="3.5" transform="rotate(40 5 -5)"/><ellipse cx="0" cy="5" rx="5.5" ry="3.2" transform="rotate(95 0 5)"/><ellipse cx="-2" cy="-10" rx="4.5" ry="3" transform="rotate(-80 -2 -10)"/><ellipse cx="7" cy="4" rx="4" ry="2.6" transform="rotate(20 7 4)"/></g>
<g fill="#6a8c40" transform="translate(903.2,1753.4) rotate(314) scale(1.2)"><ellipse cx="-6" cy="-3" rx="6" ry="3.5" transform="rotate(-30 -6 -3)"/><ellipse cx="5" cy="-5" rx="6" ry="3.5" transform="rotate(40 5 -5)"/><ellipse cx="0" cy="5" rx="5.5" ry="3.2" transform="rotate(95 0 5)"/><ellipse cx="-2" cy="-10" rx="4.5" ry="3" transform="rotate(-80 -2 -10)"/><ellipse cx="7" cy="4" rx="4" ry="2.6" transform="rotate(20 7 4)"/></g>
<g transform="translate(993.9,966.3) rotate(-30) scale(1.15)"><g fill="#6a8c40" opacity="0.9"><ellipse cx="6" cy="-6" rx="4" ry="2.4" transform="rotate(-50 6 -6)"/><ellipse cx="8" cy="3" rx="4" ry="2.4" transform="rotate(30 8 3)"/><ellipse cx="2" cy="9" rx="3" ry="2" transform="rotate(80 2 9)"/><path d="M3,-14 L6,10" stroke="#6a8c40" stroke-width="1.5"/></g><circle cx="-3" cy="0" r="6" fill="#de9098"/></g>
<g transform="translate(1110.5,1040.8) rotate(31) scale(1.15)"><g fill="#6a8c40" opacity="0.9"><ellipse cx="6" cy="-6" rx="4" ry="2.4" transform="rotate(-50 6 -6)"/><ellipse cx="8" cy="3" rx="4" ry="2.4" transform="rotate(30 8 3)"/><ellipse cx="2" cy="9" rx="3" ry="2" transform="rotate(80 2 9)"/><path d="M3,-14 L6,10" stroke="#6a8c40" stroke-width="1.5"/></g><circle cx="-3" cy="0" r="6" fill="#de9098"/></g>
<g transform="translate(793.0,1092.6) rotate(92) scale(1.15)"><g fill="#6a8c40" opacity="0.9"><ellipse cx="6" cy="-6" rx="4" ry="2.4" transform="rotate(-50 6 -6)"/><ellipse cx="8" cy="3" rx="4" ry="2.4" transform="rotate(30 8 3)"/><ellipse cx="2" cy="9" rx="3" ry="2" transform="rotate(80 2 9)"/><path d="M3,-14 L6,10" stroke="#6a8c40" stroke-width="1.5"/></g><circle cx="-3" cy="0" r="6" fill="#de9098"/></g>
<g transform="translate(874.0,1193.0) rotate(153) scale(1.15)"><g fill="#6a8c40" opacity="0.9"><ellipse cx="6" cy="-6" rx="4" ry="2.4" transform="rotate(-50 6 -6)"/><ellipse cx="8" cy="3" rx="4" ry="2.4" transform="rotate(30 8 3)"/><ellipse cx="2" cy="9" rx="3" ry="2" transform="rotate(80 2 9)"/><path d="M3,-14 L6,10" stroke="#6a8c40" stroke-width="1.5"/></g><circle cx="-3" cy="0" r="6" fill="#de9098"/></g>
<g transform="translate(1155.8,1157.4) rotate(214) scale(1.15)"><g fill="#6a8c40" opacity="0.9"><ellipse cx="6" cy="-6" rx="4" ry="2.4" transform="rotate(-50 6 -6)"/><ellipse cx="8" cy="3" rx="4" ry="2.4" transform="rotate(30 8 3)"/><ellipse cx="2" cy="9" rx="3" ry="2" transform="rotate(80 2 9)"/><path d="M3,-14 L6,10" stroke="#6a8c40" stroke-width="1.5"/></g><circle cx="-3" cy="0" r="6" fill="#de9098"/></g>
<g transform="translate(767.1,1312.9) rotate(275) scale(1.15)"><g fill="#6a8c40" opacity="0.9"><ellipse cx="6" cy="-6" rx="4" ry="2.4" transform="rotate(-50 6 -6)"/><ellipse cx="8" cy="3" rx="4" ry="2.4" transform="rotate(30 8 3)"/><ellipse cx="2" cy="9" rx="3" ry="2" transform="rotate(80 2 9)"/><path d="M3,-14 L6,10" stroke="#6a8c40" stroke-width="1.5"/></g><circle cx="-3" cy="0" r="6" fill="#de9098"/></g>
<g transform="translate(1003.6,1270.8) rotate(-24) scale(1.15)"><g fill="#6a8c40" opacity="0.9"><ellipse cx="6" cy="-6" rx="4" ry="2.4" transform="rotate(-50 6 -6)"/><ellipse cx="8" cy="3" rx="4" ry="2.4" transform="rotate(30 8 3)"/><ellipse cx="2" cy="9" rx="3" ry="2" transform="rotate(80 2 9)"/><path d="M3,-14 L6,10" stroke="#6a8c40" stroke-width="1.5"/></g><circle cx="-3" cy="0" r="6" fill="#de9098"/></g>
<g transform="translate(660.3,1384.1) rotate(37) scale(1.15)"><g fill="#6a8c40" opacity="0.9"><ellipse cx="6" cy="-6" rx="4" ry="2.4" transform="rotate(-50 6 -6)"/><ellipse cx="8" cy="3" rx="4" ry="2.4" transform="rotate(30 8 3)"/><ellipse cx="2" cy="9" rx="3" ry="2" transform="rotate(80 2 9)"/><path d="M3,-14 L6,10" stroke="#6a8c40" stroke-width="1.5"/></g><circle cx="-3" cy="0" r="6" fill="#de9098"/></g>
<g transform="translate(890.2,1426.3) rotate(98) scale(1.15)"><g fill="#6a8c40" opacity="0.9"><ellipse cx="6" cy="-6" rx="4" ry="2.4" transform="rotate(-50 6 -6)"/><ellipse cx="8" cy="3" rx="4" ry="2.4" transform="rotate(30 8 3)"/><ellipse cx="2" cy="9" rx="3" ry="2" transform="rotate(80 2 9)"/><path d="M3,-14 L6,10" stroke="#6a8c40" stroke-width="1.5"/></g><circle cx="-3" cy="0" r="6" fill="#de9098"/></g>
<g transform="translate(1197.9,1384.1) rotate(159) scale(1.15)"><g fill="#6a8c40" opacity="0.9"><ellipse cx="6" cy="-6" rx="4" ry="2.4" transform="rotate(-50 6 -6)"/><ellipse cx="8" cy="3" rx="4" ry="2.4" transform="rotate(30 8 3)"/><ellipse cx="2" cy="9" rx="3" ry="2" transform="rotate(80 2 9)"/><path d="M3,-14 L6,10" stroke="#6a8c40" stroke-width="1.5"/></g><circle cx="-3" cy="0" r="6" fill="#de9098"/></g>
<g transform="translate(977.7,1529.9) rotate(220) scale(1.15)"><g fill="#6a8c40" opacity="0.9"><ellipse cx="6" cy="-6" rx="4" ry="2.4" transform="rotate(-50 6 -6)"/><ellipse cx="8" cy="3" rx="4" ry="2.4" transform="rotate(30 8 3)"/><ellipse cx="2" cy="9" rx="3" ry="2" transform="rotate(80 2 9)"/><path d="M3,-14 L6,10" stroke="#6a8c40" stroke-width="1.5"/></g><circle cx="-3" cy="0" r="6" fill="#de9098"/></g>
<g transform="translate(666.7,1552.6) rotate(281) scale(1.15)"><g fill="#6a8c40" opacity="0.9"><ellipse cx="6" cy="-6" rx="4" ry="2.4" transform="rotate(-50 6 -6)"/><ellipse cx="8" cy="3" rx="4" ry="2.4" transform="rotate(30 8 3)"/><ellipse cx="2" cy="9" rx="3" ry="2" transform="rotate(80 2 9)"/><path d="M3,-14 L6,10" stroke="#6a8c40" stroke-width="1.5"/></g><circle cx="-3" cy="0" r="6" fill="#de9098"/></g>
<g transform="translate(793.0,1568.8) rotate(-18) scale(1.15)"><g fill="#6a8c40" opacity="0.9"><ellipse cx="6" cy="-6" rx="4" ry="2.4" transform="rotate(-50 6 -6)"/><ellipse cx="8" cy="3" rx="4" ry="2.4" transform="rotate(30 8 3)"/><ellipse cx="2" cy="9" rx="3" ry="2" transform="rotate(80 2 9)"/><path d="M3,-14 L6,10" stroke="#6a8c40" stroke-width="1.5"/></g><circle cx="-3" cy="0" r="6" fill="#de9098"/></g>
<g transform="translate(1207.6,1552.6) rotate(43) scale(1.15)"><g fill="#6a8c40" opacity="0.9"><ellipse cx="6" cy="-6" rx="4" ry="2.4" transform="rotate(-50 6 -6)"/><ellipse cx="8" cy="3" rx="4" ry="2.4" transform="rotate(30 8 3)"/><ellipse cx="2" cy="9" rx="3" ry="2" transform="rotate(80 2 9)"/><path d="M3,-14 L6,10" stroke="#6a8c40" stroke-width="1.5"/></g><circle cx="-3" cy="0" r="6" fill="#de9098"/></g>
<g transform="translate(997.1,1682.1) rotate(104) scale(1.15)"><g fill="#6a8c40" opacity="0.9"><ellipse cx="6" cy="-6" rx="4" ry="2.4" transform="rotate(-50 6 -6)"/><ellipse cx="8" cy="3" rx="4" ry="2.4" transform="rotate(30 8 3)"/><ellipse cx="2" cy="9" rx="3" ry="2" transform="rotate(80 2 9)"/><path d="M3,-14 L6,10" stroke="#6a8c40" stroke-width="1.5"/></g><circle cx="-3" cy="0" r="6" fill="#de9098"/></g>
<g transform="translate(1113.7,1750.2) rotate(165) scale(1.15)"><g fill="#6a8c40" opacity="0.9"><ellipse cx="6" cy="-6" rx="4" ry="2.4" transform="rotate(-50 6 -6)"/><ellipse cx="8" cy="3" rx="4" ry="2.4" transform="rotate(30 8 3)"/><ellipse cx="2" cy="9" rx="3" ry="2" transform="rotate(80 2 9)"/><path d="M3,-14 L6,10" stroke="#6a8c40" stroke-width="1.5"/></g><circle cx="-3" cy="0" r="6" fill="#de9098"/></g>
<g transform="translate(1334.0,1572.0) rotate(226) scale(1.15)"><g fill="#6a8c40" opacity="0.9"><ellipse cx="6" cy="-6" rx="4" ry="2.4" transform="rotate(-50 6 -6)"/><ellipse cx="8" cy="3" rx="4" ry="2.4" transform="rotate(30 8 3)"/><ellipse cx="2" cy="9" rx="3" ry="2" transform="rotate(80 2 9)"/><path d="M3,-14 L6,10" stroke="#6a8c40" stroke-width="1.5"/></g><circle cx="-3" cy="0" r="6" fill="#de9098"/></g>
</g>
<path d="M709,868 A213,54.5 0 0 0 1135,869.5 L1136.8,868.5 L709,867 Z" fill="#d0d0d0" stroke="none"/>
<path d="M728,877.5 L1116,878.5" stroke="#9a9a9a" stroke-width="2.5" stroke-dasharray="5,3" fill="none"/>
<path d="M709,868 A213,54.5 0 0 0 1135,869.5" fill="none" stroke="#4a4748" stroke-width="3.2"/>
<line x1="706.0" y1="867.5" x2="1138.0" y2="869.5" stroke="#4a4748" stroke-width="3.5" />
<path d="M709.0,868.0 C694.5,915.0 652.0,1053.0 622.0,1150.0 C592.0,1247.0 554.2,1364.1 529.0,1450.0 C503.8,1535.9 480.5,1629.3 470.8,1665.2 L563.2,1722.3 L563.2,1703.7 L668,1757.6 L668,1741 L768.7,1783.6 L768.7,1763.9 L867.4,1791.9 L867.4,1769 L967.5,1793 L967.5,1766 L1069.2,1780.5 L1069.2,1759.7 L1171,1766 L1170,1742 L1275.8,1733.8 L1273.8,1714 L1364,1659 L1364.0,1659.0 C1359.7,1640.8 1347.2,1584.8 1338.0,1550.0 C1328.8,1515.2 1328.8,1516.7 1309.0,1450.0 C1289.2,1383.3 1247.7,1246.5 1219.0,1150.0 C1190.3,1053.5 1150.5,917.5 1136.8,871.0 Z" fill="none" stroke="#3b3839" stroke-width="3.5" stroke-linejoin="miter"/>
<polyline points="709.5,868.0 710.5,658.0 722.0,868.0" fill="none" stroke="#1e1e1e" stroke-width="3" stroke-linejoin="miter" />
<polyline points="1124.0,868.0 1135.0,661.6 1136.5,868.0" fill="none" stroke="#1e1e1e" stroke-width="3" stroke-linejoin="miter" />
<ellipse cx="1152" cy="882" rx="16" ry="6" transform="rotate(25 1152 882)" fill="#3a3a3a" opacity="0.85"/>
<path d="M2377.4,947.6 L2373.2,957 L2152.8,1737 L2243.2,1794.1 L2240,1811.8 L2348,1821 L2346,1845 L2447.7,1836.7 L2447.7,1858.5 L2550.5,1845 L2549,1871.4 L2648.8,1845.6 L2648.8,1871.4 L2747.4,1842.2 L2747.4,1862.4 L2847.2,1818.7 L2847.2,1836.6 L2952.6,1783.9 L2952.6,1801.8 L3045.7,1743.5 L3045.7,1739 L2809.3,947.6 Z" fill="#f0dad0"/>
<clipPath id="clipR"><path d="M2377.4,947.6 L2373.2,957 L2152.8,1737 L2243.2,1794.1 L2240,1811.8 L2348,1821 L2346,1845 L2447.7,1836.7 L2447.7,1858.5 L2550.5,1845 L2549,1871.4 L2648.8,1845.6 L2648.8,1871.4 L2747.4,1842.2 L2747.4,1862.4 L2847.2,1818.7 L2847.2,1836.6 L2952.6,1783.9 L2952.6,1801.8 L3045.7,1743.5 L3045.7,1739 L2809.3,947.6 Z"/></clipPath><g clip-path="url(#clipR)">
<g fill="#6a8c40" transform="translate(2519.7,1002.4) rotate(0) scale(1.2)"><ellipse cx="-6" cy="-3" rx="6" ry="3.5" transform="rotate(-30 -6 -3)"/><ellipse cx="5" cy="-5" rx="6" ry="3.5" transform="rotate(40 5 -5)"/><ellipse cx="0" cy="5" rx="5.5" ry="3.2" transform="rotate(95 0 5)"/><ellipse cx="-2" cy="-10" rx="4.5" ry="3" transform="rotate(-80 -2 -10)"/><ellipse cx="7" cy="4" rx="4" ry="2.6" transform="rotate(20 7 4)"/></g>
<g fill="#6a8c40" transform="translate(2602.3,999.1) rotate(53) scale(1.2)"><ellipse cx="-6" cy="-3" rx="6" ry="3.5" transform="rotate(-30 -6 -3)"/><ellipse cx="5" cy="-5" rx="6" ry="3.5" transform="rotate(40 5 -5)"/><ellipse cx="0" cy="5" rx="5.5" ry="3.2" transform="rotate(95 0 5)"/><ellipse cx="-2" cy="-10" rx="4.5" ry="3" transform="rotate(-80 -2 -10)"/><ellipse cx="7" cy="4" rx="4" ry="2.6" transform="rotate(20 7 4)"/></g>
<g fill="#6a8c40" transform="translate(2721.3,1075.1) rotate(106) scale(1.2)"><ellipse cx="-6" cy="-3" rx="6" ry="3.5" transform="rotate(-30 -6 -3)"/><ellipse cx="5" cy="-5" rx="6" ry="3.5" transform="rotate(40 5 -5)"/><ellipse cx="0" cy="5" rx="5.5" ry="3.2" transform="rotate(95 0 5)"/><ellipse cx="-2" cy="-10" rx="4.5" ry="3" transform="rotate(-80 -2 -10)"/><ellipse cx="7" cy="4" rx="4" ry="2.6" transform="rotate(20 7 4)"/></g>
<g fill="#6a8c40" transform="translate(2519.7,1124.7) rotate(159) scale(1.2)"><ellipse cx="-6" cy="-3" rx="6" ry="3.5" transform="rotate(-30 -6 -3)"/><ellipse cx="5" cy="-5" rx="6" ry="3.5" transform="rotate(40 5 -5)"/><ellipse cx="0" cy="5" rx="5.5" ry="3.2" transform="rotate(95 0 5)"/><ellipse cx="-2" cy="-10" rx="4.5" ry="3" transform="rotate(-80 -2 -10)"/><ellipse cx="7" cy="4" rx="4" ry="2.6" transform="rotate(20 7 4)"/></g>
<g fill="#6a8c40" transform="translate(2803.9,1167.7) rotate(212) scale(1.2)"><ellipse cx="-6" cy="-3" rx="6" ry="3.5" transform="rotate(-30 -6 -3)"/><ellipse cx="5" cy="-5" rx="6" ry="3.5" transform="rotate(40 5 -5)"/><ellipse cx="0" cy="5" rx="5.5" ry="3.2" transform="rotate(95 0 5)"/><ellipse cx="-2" cy="-10" rx="4.5" ry="3" transform="rotate(-80 -2 -10)"/><ellipse cx="7" cy="4" rx="4" ry="2.6" transform="rotate(20 7 4)"/></g>
<g fill="#6a8c40" transform="translate(2698.1,1227.2) rotate(265) scale(1.2)"><ellipse cx="-6" cy="-3" rx="6" ry="3.5" transform="rotate(-30 -6 -3)"/><ellipse cx="5" cy="-5" rx="6" ry="3.5" transform="rotate(40 5 -5)"/><ellipse cx="0" cy="5" rx="5.5" ry="3.2" transform="rotate(95 0 5)"/><ellipse cx="-2" cy="-10" rx="4.5" ry="3" transform="rotate(-80 -2 -10)"/><ellipse cx="7" cy="4" rx="4" ry="2.6" transform="rotate(20 7 4)"/></g>
<g fill="#6a8c40" transform="translate(2599.0,1247.0) rotate(318) scale(1.2)"><ellipse cx="-6" cy="-3" rx="6" ry="3.5" transform="rotate(-30 -6 -3)"/><ellipse cx="5" cy="-5" rx="6" ry="3.5" transform="rotate(40 5 -5)"/><ellipse cx="0" cy="5" rx="5.5" ry="3.2" transform="rotate(95 0 5)"/><ellipse cx="-2" cy="-10" rx="4.5" ry="3" transform="rotate(-80 -2 -10)"/><ellipse cx="7" cy="4" rx="4" ry="2.6" transform="rotate(20 7 4)"/></g>
<g fill="#6a8c40" transform="translate(2496.6,1299.9) rotate(11) scale(1.2)"><ellipse cx="-6" cy="-3" rx="6" ry="3.5" transform="rotate(-30 -6 -3)"/><ellipse cx="5" cy="-5" rx="6" ry="3.5" transform="rotate(40 5 -5)"/><ellipse cx="0" cy="5" rx="5.5" ry="3.2" transform="rotate(95 0 5)"/><ellipse cx="-2" cy="-10" rx="4.5" ry="3" transform="rotate(-80 -2 -10)"/><ellipse cx="7" cy="4" rx="4" ry="2.6" transform="rotate(20 7 4)"/></g>
<g fill="#6a8c40" transform="translate(2387.5,1339.5) rotate(64) scale(1.2)"><ellipse cx="-6" cy="-3" rx="6" ry="3.5" transform="rotate(-30 -6 -3)"/><ellipse cx="5" cy="-5" rx="6" ry="3.5" transform="rotate(40 5 -5)"/><ellipse cx="0" cy="5" rx="5.5" ry="3.2" transform="rotate(95 0 5)"/><ellipse cx="-2" cy="-10" rx="4.5" ry="3" transform="rotate(-80 -2 -10)"/><ellipse cx="7" cy="4" rx="4" ry="2.6" transform="rotate(20 7 4)"/></g>
<g fill="#6a8c40" transform="translate(2701.5,1352.7) rotate(117) scale(1.2)"><ellipse cx="-6" cy="-3" rx="6" ry="3.5" transform="rotate(-30 -6 -3)"/><ellipse cx="5" cy="-5" rx="6" ry="3.5" transform="rotate(40 5 -5)"/><ellipse cx="0" cy="5" rx="5.5" ry="3.2" transform="rotate(95 0 5)"/><ellipse cx="-2" cy="-10" rx="4.5" ry="3" transform="rotate(-80 -2 -10)"/><ellipse cx="7" cy="4" rx="4" ry="2.6" transform="rotate(20 7 4)"/></g>
<g fill="#6a8c40" transform="translate(2295.0,1422.1) rotate(170) scale(1.2)"><ellipse cx="-6" cy="-3" rx="6" ry="3.5" transform="rotate(-30 -6 -3)"/><ellipse cx="5" cy="-5" rx="6" ry="3.5" transform="rotate(40 5 -5)"/><ellipse cx="0" cy="5" rx="5.5" ry="3.2" transform="rotate(95 0 5)"/><ellipse cx="-2" cy="-10" rx="4.5" ry="3" transform="rotate(-80 -2 -10)"/><ellipse cx="7" cy="4" rx="4" ry="2.6" transform="rotate(20 7 4)"/></g>
<g fill="#6a8c40" transform="translate(2833.6,1422.1) rotate(223) scale(1.2)"><ellipse cx="-6" cy="-3" rx="6" ry="3.5" transform="rotate(-30 -6 -3)"/><ellipse cx="5" cy="-5" rx="6" ry="3.5" transform="rotate(40 5 -5)"/><ellipse cx="0" cy="5" rx="5.5" ry="3.2" transform="rotate(95 0 5)"/><ellipse cx="-2" cy="-10" rx="4.5" ry="3" transform="rotate(-80 -2 -10)"/><ellipse cx="7" cy="4" rx="4" ry="2.6" transform="rotate(20 7 4)"/></g>
<g fill="#6a8c40" transform="translate(2387.5,1504.8) rotate(276) scale(1.2)"><ellipse cx="-6" cy="-3" rx="6" ry="3.5" transform="rotate(-30 -6 -3)"/><ellipse cx="5" cy="-5" rx="6" ry="3.5" transform="rotate(40 5 -5)"/><ellipse cx="0" cy="5" rx="5.5" ry="3.2" transform="rotate(95 0 5)"/><ellipse cx="-2" cy="-10" rx="4.5" ry="3" transform="rotate(-80 -2 -10)"/><ellipse cx="7" cy="4" rx="4" ry="2.6" transform="rotate(20 7 4)"/></g>
<g fill="#6a8c40" transform="translate(2599.0,1498.1) rotate(329) scale(1.2)"><ellipse cx="-6" cy="-3" rx="6" ry="3.5" transform="rotate(-30 -6 -3)"/><ellipse cx="5" cy="-5" rx="6" ry="3.5" transform="rotate(40 5 -5)"/><ellipse cx="0" cy="5" rx="5.5" ry="3.2" transform="rotate(95 0 5)"/><ellipse cx="-2" cy="-10" rx="4.5" ry="3" transform="rotate(-80 -2 -10)"/><ellipse cx="7" cy="4" rx="4" ry="2.6" transform="rotate(20 7 4)"/></g>
<g fill="#6a8c40" transform="translate(2929.5,1504.8) rotate(22) scale(1.2)"><ellipse cx="-6" cy="-3" rx="6" ry="3.5" transform="rotate(-30 -6 -3)"/><ellipse cx="5" cy="-5" rx="6" ry="3.5" transform="rotate(40 5 -5)"/><ellipse cx="0" cy="5" rx="5.5" ry="3.2" transform="rotate(95 0 5)"/><ellipse cx="-2" cy="-10" rx="4.5" ry="3" transform="rotate(-80 -2 -10)"/><ellipse cx="7" cy="4" rx="4" ry="2.6" transform="rotate(20 7 4)"/></g>
<g fill="#6a8c40" transform="translate(2387.5,1633.6) rotate(75) scale(1.2)"><ellipse cx="-6" cy="-3" rx="6" ry="3.5" transform="rotate(-30 -6 -3)"/><ellipse cx="5" cy="-5" rx="6" ry="3.5" transform="rotate(40 5 -5)"/><ellipse cx="0" cy="5" rx="5.5" ry="3.2" transform="rotate(95 0 5)"/><ellipse cx="-2" cy="-10" rx="4.5" ry="3" transform="rotate(-80 -2 -10)"/><ellipse cx="7" cy="4" rx="4" ry="2.6" transform="rotate(20 7 4)"/></g>
<g fill="#6a8c40" transform="translate(2708.1,1650.2) rotate(128) scale(1.2)"><ellipse cx="-6" cy="-3" rx="6" ry="3.5" transform="rotate(-30 -6 -3)"/><ellipse cx="5" cy="-5" rx="6" ry="3.5" transform="rotate(40 5 -5)"/><ellipse cx="0" cy="5" rx="5.5" ry="3.2" transform="rotate(95 0 5)"/><ellipse cx="-2" cy="-10" rx="4.5" ry="3" transform="rotate(-80 -2 -10)"/><ellipse cx="7" cy="4" rx="4" ry="2.6" transform="rotate(20 7 4)"/></g>
<g fill="#6a8c40" transform="translate(2926.2,1630.3) rotate(181) scale(1.2)"><ellipse cx="-6" cy="-3" rx="6" ry="3.5" transform="rotate(-30 -6 -3)"/><ellipse cx="5" cy="-5" rx="6" ry="3.5" transform="rotate(40 5 -5)"/><ellipse cx="0" cy="5" rx="5.5" ry="3.2" transform="rotate(95 0 5)"/><ellipse cx="-2" cy="-10" rx="4.5" ry="3" transform="rotate(-80 -2 -10)"/><ellipse cx="7" cy="4" rx="4" ry="2.6" transform="rotate(20 7 4)"/></g>
<g fill="#6a8c40" transform="translate(2516.4,1716.3) rotate(234) scale(1.2)"><ellipse cx="-6" cy="-3" rx="6" ry="3.5" transform="rotate(-30 -6 -3)"/><ellipse cx="5" cy="-5" rx="6" ry="3.5" transform="rotate(40 5 -5)"/><ellipse cx="0" cy="5" rx="5.5" ry="3.2" transform="rotate(95 0 5)"/><ellipse cx="-2" cy="-10" rx="4.5" ry="3" transform="rotate(-80 -2 -10)"/><ellipse cx="7" cy="4" rx="4" ry="2.6" transform="rotate(20 7 4)"/></g>
<g fill="#6a8c40" transform="translate(2602.3,1716.3) rotate(287) scale(1.2)"><ellipse cx="-6" cy="-3" rx="6" ry="3.5" transform="rotate(-30 -6 -3)"/><ellipse cx="5" cy="-5" rx="6" ry="3.5" transform="rotate(40 5 -5)"/><ellipse cx="0" cy="5" rx="5.5" ry="3.2" transform="rotate(95 0 5)"/><ellipse cx="-2" cy="-10" rx="4.5" ry="3" transform="rotate(-80 -2 -10)"/><ellipse cx="7" cy="4" rx="4" ry="2.6" transform="rotate(20 7 4)"/></g>
<g fill="#6a8c40" transform="translate(2724.6,1789.0) rotate(340) scale(1.2)"><ellipse cx="-6" cy="-3" rx="6" ry="3.5" transform="rotate(-30 -6 -3)"/><ellipse cx="5" cy="-5" rx="6" ry="3.5" transform="rotate(40 5 -5)"/><ellipse cx="0" cy="5" rx="5.5" ry="3.2" transform="rotate(95 0 5)"/><ellipse cx="-2" cy="-10" rx="4.5" ry="3" transform="rotate(-80 -2 -10)"/><ellipse cx="7" cy="4" rx="4" ry="2.6" transform="rotate(20 7 4)"/></g>
<g fill="#6a8c40" transform="translate(2519.7,1831.9) rotate(33) scale(1.2)"><ellipse cx="-6" cy="-3" rx="6" ry="3.5" transform="rotate(-30 -6 -3)"/><ellipse cx="5" cy="-5" rx="6" ry="3.5" transform="rotate(40 5 -5)"/><ellipse cx="0" cy="5" rx="5.5" ry="3.2" transform="rotate(95 0 5)"/><ellipse cx="-2" cy="-10" rx="4.5" ry="3" transform="rotate(-80 -2 -10)"/><ellipse cx="7" cy="4" rx="4" ry="2.6" transform="rotate(20 7 4)"/></g>
<g transform="translate(2810.5,1002.4) rotate(-30) scale(1.15)"><g fill="#6a8c40" opacity="0.9"><ellipse cx="6" cy="-6" rx="4" ry="2.4" transform="rotate(-50 6 -6)"/><ellipse cx="8" cy="3" rx="4" ry="2.4" transform="rotate(30 8 3)"/><ellipse cx="2" cy="9" rx="3" ry="2" transform="rotate(80 2 9)"/><path d="M3,-14 L6,10" stroke="#6a8c40" stroke-width="1.5"/></g><circle cx="-3" cy="0" r="6" fill="#de9098"/></g>
<g transform="translate(2394.1,1075.1) rotate(37) scale(1.15)"><g fill="#6a8c40" opacity="0.9"><ellipse cx="6" cy="-6" rx="4" ry="2.4" transform="rotate(-50 6 -6)"/><ellipse cx="8" cy="3" rx="4" ry="2.4" transform="rotate(30 8 3)"/><ellipse cx="2" cy="9" rx="3" ry="2" transform="rotate(80 2 9)"/><path d="M3,-14 L6,10" stroke="#6a8c40" stroke-width="1.5"/></g><circle cx="-3" cy="0" r="6" fill="#de9098"/></g>
<g transform="translate(2618.8,1124.7) rotate(104) scale(1.15)"><g fill="#6a8c40" opacity="0.9"><ellipse cx="6" cy="-6" rx="4" ry="2.4" transform="rotate(-50 6 -6)"/><ellipse cx="8" cy="3" rx="4" ry="2.4" transform="rotate(30 8 3)"/><ellipse cx="2" cy="9" rx="3" ry="2" transform="rotate(80 2 9)"/><path d="M3,-14 L6,10" stroke="#6a8c40" stroke-width="1.5"/></g><circle cx="-3" cy="0" r="6" fill="#de9098"/></g>
<g transform="translate(2440.4,1187.5) rotate(171) scale(1.15)"><g fill="#6a8c40" opacity="0.9"><ellipse cx="6" cy="-6" rx="4" ry="2.4" transform="rotate(-50 6 -6)"/><ellipse cx="8" cy="3" rx="4" ry="2.4" transform="rotate(30 8 3)"/><ellipse cx="2" cy="9" rx="3" ry="2" transform="rotate(80 2 9)"/><path d="M3,-14 L6,10" stroke="#6a8c40" stroke-width="1.5"/></g><circle cx="-3" cy="0" r="6" fill="#de9098"/></g>
<g transform="translate(2288.4,1299.9) rotate(238) scale(1.15)"><g fill="#6a8c40" opacity="0.9"><ellipse cx="6" cy="-6" rx="4" ry="2.4" transform="rotate(-50 6 -6)"/><ellipse cx="8" cy="3" rx="4" ry="2.4" transform="rotate(30 8 3)"/><ellipse cx="2" cy="9" rx="3" ry="2" transform="rotate(80 2 9)"/><path d="M3,-14 L6,10" stroke="#6a8c40" stroke-width="1.5"/></g><circle cx="-3" cy="0" r="6" fill="#de9098"/></g>
<g transform="translate(2827.0,1299.9) rotate(305) scale(1.15)"><g fill="#6a8c40" opacity="0.9"><ellipse cx="6" cy="-6" rx="4" ry="2.4" transform="rotate(-50 6 -6)"/><ellipse cx="8" cy="3" rx="4" ry="2.4" transform="rotate(30 8 3)"/><ellipse cx="2" cy="9" rx="3" ry="2" transform="rotate(80 2 9)"/><path d="M3,-14 L6,10" stroke="#6a8c40" stroke-width="1.5"/></g><circle cx="-3" cy="0" r="6" fill="#de9098"/></g>
<g transform="translate(2592.4,1346.1) rotate(12) scale(1.15)"><g fill="#6a8c40" opacity="0.9"><ellipse cx="6" cy="-6" rx="4" ry="2.4" transform="rotate(-50 6 -6)"/><ellipse cx="8" cy="3" rx="4" ry="2.4" transform="rotate(30 8 3)"/><ellipse cx="2" cy="9" rx="3" ry="2" transform="rotate(80 2 9)"/><path d="M3,-14 L6,10" stroke="#6a8c40" stroke-width="1.5"/></g><circle cx="-3" cy="0" r="6" fill="#de9098"/></g>
<g transform="translate(2480.0,1418.8) rotate(79) scale(1.15)"><g fill="#6a8c40" opacity="0.9"><ellipse cx="6" cy="-6" rx="4" ry="2.4" transform="rotate(-50 6 -6)"/><ellipse cx="8" cy="3" rx="4" ry="2.4" transform="rotate(30 8 3)"/><ellipse cx="2" cy="9" rx="3" ry="2" transform="rotate(80 2 9)"/><path d="M3,-14 L6,10" stroke="#6a8c40" stroke-width="1.5"/></g><circle cx="-3" cy="0" r="6" fill="#de9098"/></g>
<g transform="translate(2711.4,1461.8) rotate(146) scale(1.15)"><g fill="#6a8c40" opacity="0.9"><ellipse cx="6" cy="-6" rx="4" ry="2.4" transform="rotate(-50 6 -6)"/><ellipse cx="8" cy="3" rx="4" ry="2.4" transform="rotate(30 8 3)"/><ellipse cx="2" cy="9" rx="3" ry="2" transform="rotate(80 2 9)"/><path d="M3,-14 L6,10" stroke="#6a8c40" stroke-width="1.5"/></g><circle cx="-3" cy="0" r="6" fill="#de9098"/></g>
<g transform="translate(2258.6,1560.9) rotate(213) scale(1.15)"><g fill="#6a8c40" opacity="0.9"><ellipse cx="6" cy="-6" rx="4" ry="2.4" transform="rotate(-50 6 -6)"/><ellipse cx="8" cy="3" rx="4" ry="2.4" transform="rotate(30 8 3)"/><ellipse cx="2" cy="9" rx="3" ry="2" transform="rotate(80 2 9)"/><path d="M3,-14 L6,10" stroke="#6a8c40" stroke-width="1.5"/></g><circle cx="-3" cy="0" r="6" fill="#de9098"/></g>
<g transform="translate(2490.0,1584.1) rotate(280) scale(1.15)"><g fill="#6a8c40" opacity="0.9"><ellipse cx="6" cy="-6" rx="4" ry="2.4" transform="rotate(-50 6 -6)"/><ellipse cx="8" cy="3" rx="4" ry="2.4" transform="rotate(30 8 3)"/><ellipse cx="2" cy="9" rx="3" ry="2" transform="rotate(80 2 9)"/><path d="M3,-14 L6,10" stroke="#6a8c40" stroke-width="1.5"/></g><circle cx="-3" cy="0" r="6" fill="#de9098"/></g>
<g transform="translate(2618.8,1600.6) rotate(-13) scale(1.15)"><g fill="#6a8c40" opacity="0.9"><ellipse cx="6" cy="-6" rx="4" ry="2.4" transform="rotate(-50 6 -6)"/><ellipse cx="8" cy="3" rx="4" ry="2.4" transform="rotate(30 8 3)"/><ellipse cx="2" cy="9" rx="3" ry="2" transform="rotate(80 2 9)"/><path d="M3,-14 L6,10" stroke="#6a8c40" stroke-width="1.5"/></g><circle cx="-3" cy="0" r="6" fill="#de9098"/></g>
<g transform="translate(2794.0,1560.9) rotate(54) scale(1.15)"><g fill="#6a8c40" opacity="0.9"><ellipse cx="6" cy="-6" rx="4" ry="2.4" transform="rotate(-50 6 -6)"/><ellipse cx="8" cy="3" rx="4" ry="2.4" transform="rotate(30 8 3)"/><ellipse cx="2" cy="9" rx="3" ry="2" transform="rotate(80 2 9)"/><path d="M3,-14 L6,10" stroke="#6a8c40" stroke-width="1.5"/></g><circle cx="-3" cy="0" r="6" fill="#de9098"/></g>
<g transform="translate(2278.5,1713.0) rotate(121) scale(1.15)"><g fill="#6a8c40" opacity="0.9"><ellipse cx="6" cy="-6" rx="4" ry="2.4" transform="rotate(-50 6 -6)"/><ellipse cx="8" cy="3" rx="4" ry="2.4" transform="rotate(30 8 3)"/><ellipse cx="2" cy="9" rx="3" ry="2" transform="rotate(80 2 9)"/><path d="M3,-14 L6,10" stroke="#6a8c40" stroke-width="1.5"/></g><circle cx="-3" cy="0" r="6" fill="#de9098"/></g>
<g transform="translate(2817.1,1719.6) rotate(188) scale(1.15)"><g fill="#6a8c40" opacity="0.9"><ellipse cx="6" cy="-6" rx="4" ry="2.4" transform="rotate(-50 6 -6)"/><ellipse cx="8" cy="3" rx="4" ry="2.4" transform="rotate(30 8 3)"/><ellipse cx="2" cy="9" rx="3" ry="2" transform="rotate(80 2 9)"/><path d="M3,-14 L6,10" stroke="#6a8c40" stroke-width="1.5"/></g><circle cx="-3" cy="0" r="6" fill="#de9098"/></g>
<g transform="translate(2394.1,1792.3) rotate(255) scale(1.15)"><g fill="#6a8c40" opacity="0.9"><ellipse cx="6" cy="-6" rx="4" ry="2.4" transform="rotate(-50 6 -6)"/><ellipse cx="8" cy="3" rx="4" ry="2.4" transform="rotate(30 8 3)"/><ellipse cx="2" cy="9" rx="3" ry="2" transform="rotate(80 2 9)"/><path d="M3,-14 L6,10" stroke="#6a8c40" stroke-width="1.5"/></g><circle cx="-3" cy="0" r="6" fill="#de9098"/></g>
<g transform="translate(2618.8,1838.5) rotate(322) scale(1.15)"><g fill="#6a8c40" opacity="0.9"><ellipse cx="6" cy="-6" rx="4" ry="2.4" transform="rotate(-50 6 -6)"/><ellipse cx="8" cy="3" rx="4" ry="2.4" transform="rotate(30 8 3)"/><ellipse cx="2" cy="9" rx="3" ry="2" transform="rotate(80 2 9)"/><path d="M3,-14 L6,10" stroke="#6a8c40" stroke-width="1.5"/></g><circle cx="-3" cy="0" r="6" fill="#de9098"/></g>
<g transform="translate(2936.1,1782.4) rotate(29) scale(1.15)"><g fill="#6a8c40" opacity="0.9"><ellipse cx="6" cy="-6" rx="4" ry="2.4" transform="rotate(-50 6 -6)"/><ellipse cx="8" cy="3" rx="4" ry="2.4" transform="rotate(30 8 3)"/><ellipse cx="2" cy="9" rx="3" ry="2" transform="rotate(80 2 9)"/><path d="M3,-14 L6,10" stroke="#6a8c40" stroke-width="1.5"/></g><circle cx="-3" cy="0" r="6" fill="#de9098"/></g>
</g>
<polyline points="2426.2,947.6 2402.3,1100.0 2360.6,1300.0 2313.0,1500.0 2240.0,1811.8" fill="none" stroke="#3b3839" stroke-width="3" stroke-linejoin="miter" />
<polyline points="2469.8,947.6 2450.0,1100.0 2425.9,1300.0 2394.1,1500.0 2346.0,1845.0" fill="none" stroke="#3b3839" stroke-width="3" stroke-linejoin="miter" />
<polyline points="2515.5,947.6 2505.0,1100.0 2491.2,1300.0 2473.6,1500.0 2447.7,1858.5" fill="none" stroke="#3b3839" stroke-width="3" stroke-linejoin="miter" />
<polyline points="2563.2,947.6 2562.2,1100.0 2560.0,1300.0 2556.5,1500.0 2549.0,1871.4" fill="none" stroke="#3b3839" stroke-width="3" stroke-linejoin="miter" />
<polyline points="2619.3,947.6 2621.4,1100.0 2625.4,1300.0 2634.2,1500.0 2648.8,1871.4" fill="none" stroke="#3b3839" stroke-width="3" stroke-linejoin="miter" />
<polyline points="2673.3,947.6 2680.5,1100.0 2696.0,1300.0 2715.4,1500.0 2747.4,1862.4" fill="none" stroke="#3b3839" stroke-width="3" stroke-linejoin="miter" />
<polyline points="2716.9,947.6 2733.5,1100.0 2759.5,1300.0 2794.8,1500.0 2847.2,1836.6" fill="none" stroke="#3b3839" stroke-width="3" stroke-linejoin="miter" />
<polyline points="2759.4,947.6 2786.4,1100.0 2826.5,1300.0 2883.0,1500.0 2952.6,1801.8" fill="none" stroke="#3b3839" stroke-width="3" stroke-linejoin="miter" />
<polyline points="2845.0,1365.0 2941.4,1783.9" fill="none" stroke="#6b6566" stroke-width="1.5" stroke-linejoin="miter" />
<path d="M2377.4,947.6 L2373.2,957 L2152.8,1737 L2243.2,1794.1 L2240,1811.8 L2348,1821 L2346,1845 L2447.7,1836.7 L2447.7,1858.5 L2550.5,1845 L2549,1871.4 L2648.8,1845.6 L2648.8,1871.4 L2747.4,1842.2 L2747.4,1862.4 L2847.2,1818.7 L2847.2,1836.6 L2952.6,1783.9 L2952.6,1801.8 L3045.7,1743.5 L3045.7,1739 L2809.3,947.6 Z" fill="none" stroke="#3b3839" stroke-width="3.5"/>
<line x1="2377.4" y1="947.6" x2="2809.3" y2="947.6" stroke="#444" stroke-width="3.5" />
<line x1="2394.0" y1="958.0" x2="2790.6" y2="958.0" stroke="#6d6465" stroke-width="3.5" />
<path d="M2380,949 Q2358,950 2349,963 Q2345,972 2352,975 Q2360,976 2368,971 L2378,963 Z" fill="#2b2b2b"/>
<rect x="764.0" y="550.0" width="94.0" height="36.6" fill="#fff200" stroke="#333" stroke-width="2.2"/>
<rect x="858.0" y="561.0" width="31.0" height="17.0" fill="#fff200" stroke="#333" stroke-width="2.2"/>
<polygon points="1121.9,1066.2 1202.9,1066.2 1211.4,1105.3 1122.4,1105.3" fill="#fff200" stroke="#2e2e2e" stroke-width="3" stroke-linejoin="miter" />
<polyline points="812.0,549.5 812.0,497.0" fill="none" stroke="#06aaea" stroke-width="6" stroke-linejoin="miter" stroke-linecap="butt"/>
<polygon points="812.0,462.0 830.5,499.0 793.5,499.0" fill="#06aaea" stroke="none" stroke-width="0" stroke-linejoin="miter" />
<polyline points="707.5,847.6 650.7,790.7" fill="none" stroke="#06aaea" stroke-width="6" stroke-linejoin="miter" stroke-linecap="butt"/>
<polygon points="626.0,766.0 665.2,779.1 639.1,805.2" fill="#06aaea" stroke="none" stroke-width="0" stroke-linejoin="miter" />
<polyline points="750.7,924.0 737.0,987.4 466.0,987.4" fill="none" stroke="#06aaea" stroke-width="6" stroke-linejoin="miter" stroke-linecap="butt"/>
<polygon points="431.0,987.4 468.0,968.9 468.0,1005.9" fill="#06aaea" stroke="none" stroke-width="0" stroke-linejoin="miter" />
<polyline points="549.0,1376.9 454.5,1376.9" fill="none" stroke="#06aaea" stroke-width="6" stroke-linejoin="miter" stroke-linecap="butt"/>
<polygon points="419.5,1376.9 456.5,1358.4 456.5,1395.4" fill="#06aaea" stroke="none" stroke-width="0" stroke-linejoin="miter" />
<polyline points="1137.0,878.0 1238.4,892.4" fill="none" stroke="#06aaea" stroke-width="6" stroke-linejoin="miter" stroke-linecap="butt"/>
<polygon points="1273.0,897.7 1233.6,910.4 1239.2,873.8" fill="#06aaea" stroke="none" stroke-width="0" stroke-linejoin="miter" />
<polyline points="1166.0,1106.0 1189.7,1243.0 1306.0,1243.0" fill="none" stroke="#06aaea" stroke-width="6" stroke-linejoin="miter" stroke-linecap="butt"/>
<polygon points="1341.0,1243.0 1304.0,1261.5 1304.0,1224.5" fill="#06aaea" stroke="none" stroke-width="0" stroke-linejoin="miter" />
<polyline points="2365.6,968.2 2282.0,1028.5" fill="none" stroke="#06aaea" stroke-width="6" stroke-linejoin="miter" stroke-linecap="butt"/>
<polygon points="2253.5,1048.8 2273.0,1012.3 2294.4,1042.5" fill="#06aaea" stroke="none" stroke-width="0" stroke-linejoin="miter" />
<polyline points="2775.6,1023.8 2783.2,1069.0 2949.6,1069.0" fill="none" stroke="#06aaea" stroke-width="6" stroke-linejoin="miter" stroke-linecap="butt"/>
<polygon points="2984.6,1069.0 2947.6,1087.5 2947.6,1050.5" fill="#06aaea" stroke="none" stroke-width="0" stroke-linejoin="miter" />
<polyline points="2645.8,1847.8 2636.0,1917.1" fill="none" stroke="#06aaea" stroke-width="6" stroke-linejoin="miter" stroke-linecap="butt"/>
<polygon points="2633.8,1952.0 2617.7,1913.9 2654.6,1916.2" fill="#06aaea" stroke="none" stroke-width="0" stroke-linejoin="miter" />
</svg></body></html>
